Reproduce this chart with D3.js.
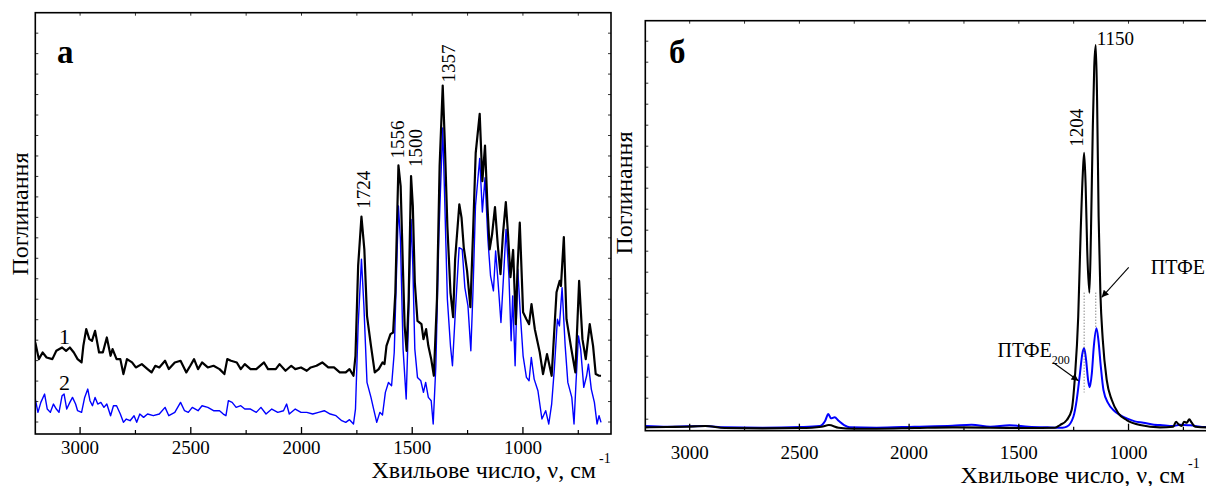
<!DOCTYPE html>
<html><head><meta charset="utf-8">
<script src="https://cdn.jsdelivr.net/npm/d3@7"></script>
<style>
body{margin:0;background:#fff}
svg{display:block}
text{font-family:"Liberation Serif","Times New Roman",serif;fill:#000}
</style>
</head><body>
<svg id="c" width="1206" height="486"></svg>
<script>
// ---------- DATA (wavenumber cm^-1, absorbance a.u.) ----------
const majorTicks = [3000, 2500, 2000, 1500, 1000];
const minorTicks = [2750, 2250, 1750, 1250, 750];

// panel a, curve 1 (black)
const leftCurve1 = [[3200,.275],[3184,.225],[3167,.245],[3149,.23],[3123,.225],[3105,.25],[3079,.26],[3061,.25],[3044,.26],[3026,.245],[3009,.225],[2991,.215],[2983,.265],[2970,.315],[2956,.285],[2944,.28],[2930,.31],[2912,.245],[2895,.245],[2877,.29],[2860,.235],[2851,.255],[2833,.225],[2816,.225],[2802,.18],[2786,.225],[2763,.215],[2746,.2],[2719,.21],[2693,.195],[2675,.185],[2658,.205],[2640,.2],[2614,.22],[2597,.195],[2570,.215],[2544,.22],[2518,.185],[2500,.205],[2483,.225],[2465,.195],[2447,.215],[2421,.2],[2395,.205],[2368,.195],[2346,.18],[2333,.225],[2316,.22],[2290,.215],[2272,.195],[2254,.21],[2228,.195],[2202,.195],[2167,.215],[2149,.195],[2114,.195],[2097,.21],[2070,.19],[2044,.205],[2026,.195],[2000,.2],[1974,.19],[1956,.2],[1930,.205],[1904,.215],[1877,.2],[1851,.2],[1825,.185],[1798,.185],[1781,.195],[1763,.175],
[1754,.235],[1742,.505],[1727,.653],[1714,.555],[1702,.355],[1684,.265],[1667,.185],[1649,.195],[1632,.215],[1623,.21],[1614,.265],[1596,.3],[1584,.305],[1574,.425],[1560,.807],[1550,.745],[1540,.505],[1532,.325],[1523,.25],[1514,.405],[1503,.775],[1495,.685],[1486,.455],[1474,.34],[1456,.33],[1447,.285],[1435,.315],[1425,.265],[1412,.225],[1400,.175],[1386,.405],[1374,.805],[1360,1.047],[1351,.885],[1339,.625],[1325,.425],[1313,.351],[1304,.525],[1285,.69],[1275,.65],[1265,.561],[1250,.49],[1235,.381],[1223,.605],[1211,.845],[1193,.962],[1181,.76],[1169,.867],[1158,.685],[1148,.555],[1137,.6],[1124,.682],[1111,.565],[1099,.48],[1088,.6],[1075,.697],[1065,.6],[1054,.471],[1042,.553],[1030,.33],[1022,.5],[1012,.635],[997,.366],[982,.345],[970,.33],[959,.39],[944,.315],[922,.246],[907,.18],[889,.24],[868,.175],[846,.426],[832,.46],[826,.445],[813,.592],[801,.345],[779,.255],[761,.185],[744,.46],[729,.285],[714,.225],[696,.33],[681,.265],[669,.18],[654,.175],[645,.175]];

// panel a, curve 2 (blue)
const leftCurve2 = [[3200,.105],[3188,.065],[3175,.095],[3158,.12],[3146,.075],[3132,.065],[3118,.09],[3105,.075],[3093,.065],[3079,.115],[3070,.12],[3058,.075],[3044,.095],[3032,.11],[3018,.09],[3009,.07],[2991,.065],[2977,.11],[2963,.135],[2953,.1],[2942,.085],[2930,.11],[2918,.09],[2904,.095],[2890,.08],[2877,.09],[2860,.055],[2847,.085],[2833,.085],[2816,.06],[2802,.035],[2789,.045],[2772,.04],[2754,.055],[2742,.035],[2728,.06],[2711,.05],[2693,.06],[2667,.055],[2640,.06],[2614,.08],[2597,.055],[2570,.065],[2544,.095],[2526,.07],[2509,.065],[2491,.08],[2465,.07],[2447,.085],[2421,.08],[2395,.07],[2368,.07],[2351,.06],[2339,.055],[2328,.1],[2311,.095],[2293,.08],[2272,.085],[2254,.075],[2228,.075],[2202,.065],[2181,.08],[2158,.06],[2132,.075],[2105,.065],[2079,.07],[2065,.09],[2053,.06],[2026,.075],[2000,.065],[1974,.065],[1947,.06],[1921,.065],[1895,.07],[1868,.06],[1842,.055],[1816,.04],[1798,.035],[1781,.043],[1763,.03],
[1754,.075],[1742,.325],[1727,.525],[1716,.385],[1702,.155],[1684,.11],[1672,.075],[1658,.035],[1644,.065],[1632,.057],[1619,.125],[1605,.155],[1591,.145],[1579,.245],[1560,.685],[1551,.585],[1539,.255],[1525,.105],[1514,.355],[1503,.645],[1495,.505],[1486,.255],[1474,.17],[1459,.16],[1447,.125],[1437,.155],[1425,.11],[1412,.1],[1403,.03],[1391,.205],[1377,.605],[1360,.92],[1351,.705],[1339,.405],[1325,.265],[1316,.205],[1304,.355],[1286,.56],[1272,.555],[1260,.44],[1246,.385],[1233,.25],[1223,.435],[1212,.685],[1193,.828],[1181,.667],[1169,.77],[1156,.585],[1144,.475],[1131,.43],[1121,.55],[1111,.465],[1097,.335],[1084,.49],[1074,.615],[1061,.475],[1051,.28],[1044,.415],[1033,.205],[1021,.495],[1009,.355],[997,.235],[982,.17],[970,.16],[960,.23],[947,.165],[930,.13],[912,.045],[895,.07],[881,.03],[868,.09],[856,.195],[842,.345],[833,.325],[821,.44],[807,.265],[795,.155],[777,.11],[767,.03],[758,.155],[747,.295],[737,.255],[723,.14],[710,.175],[702,.21],[689,.135],[675,.095],[663,.03],[654,.055],[645,.035]];

// panel б, ПТФЕ (black)
const rightCurve1 = [[3200,.01],[3100,.011],[3012,.012],[2926,.014],[2839,.008],[2666,.007],[2493,.008],[2397,.012],[2363,.017],[2319,.009],[2250,.006],[2146,.006],[1973,.008],[1800,.01],[1627,.009],[1454,.008],[1333,.009],[1310,.017],[1279,.032],[1257,.062],[1242,.162],[1227,.342],[1216,.593],[1206,.773],[1200,.834],[1193,.732],[1186,.542],[1176,.414],[1169,.593],[1161,.893],[1154,1.092],[1147,1.157],[1141,.992],[1134,.642],[1126,.413],[1115,.272],[1097,.152],[1074,.092],[1044,.052],[1006,.032],[945,.017],[854,.01],[794,.012],[781,.027],[771,.02],[755,.014],[745,.027],[732,.024],[721,.034],[710,.024],[694,.012],[644,.01],[600,.01]];

// panel б, ПТФЕ200 (blue)
const rightCurve2 = [[3200,.014],[3099,.012],[3012,.013],[2926,.014],[2839,.01],[2666,.009],[2493,.011],[2406,.014],[2380,.03],[2366,.05],[2354,.037],[2337,.04],[2319,.03],[2294,.017],[2268,.01],[2146,.009],[1973,.012],[1800,.015],[1713,.018],[1627,.012],[1540,.016],[1454,.012],[1367,.01],[1298,.009],[1279,.012],[1249,.042],[1234,.092],[1219,.172],[1208,.232],[1200,.247],[1191,.212],[1182,.152],[1175,.13],[1165,.172],[1156,.252],[1144,.307],[1135,.272],[1124,.192],[1112,.122],[1090,.082],[1067,.062],[1036,.047],[1003,.036],[969,.028],[930,.024],[882,.018],[854,.017],[794,.014],[763,.018],[717,.016],[644,.011],[600,.011]];

const leftPeaks = [1724, 1556, 1500, 1357];
const rightPeaks = [1204, 1150];
const xTitle = "Хвильове число, ν, см";
const yTitle = "Поглинання";

// ---------- DRAWING ----------
const svg = d3.select("#c");
const FONT = "Liberation Serif, Times New Roman, serif";

function nearestMax(data, wn, win) {
  let best = null;
  data.forEach(d => { if (Math.abs(d[0]-wn) <= win && (!best || d[1] > best[1])) best = d; });
  return best;
}

function drawPanel(o) {
  const x = d3.scaleLinear().domain([3200, 600]).range([o.x0, o.x1]);
  const y = d3.scaleLinear().domain([0, o.ymax]).range([o.y1, o.y0]);
  const g = svg.append("g");
  const cid = "clip" + o.id;
  g.append("clipPath").attr("id", cid).append("rect")
    .attr("x", o.x0).attr("y", o.y0).attr("width", o.x1 - o.x0).attr("height", o.y1 - o.y0);

  const line = d3.line().x(d => x(d[0])).y(d => y(d[1])).curve(o.curve);
  const cg = g.append("g").attr("clip-path", `url(#${cid})`);
  cg.append("path").datum(o.c2).attr("d", line).attr("fill", "none")
    .attr("stroke", "#0000ff").attr("stroke-width", o.w2).attr("stroke-linejoin", "round");
  cg.append("path").datum(o.c1).attr("d", line).attr("fill", "none")
    .attr("stroke", "#000").attr("stroke-width", o.w1).attr("stroke-linejoin", "round");

  // axes (inward ticks)
  const bot = g.append("g").attr("transform", `translate(0,${o.y1})`)
    .call(d3.axisBottom(x).tickValues(majorTicks).tickFormat(d3.format("d"))
      .tickSizeInner(-7).tickSizeOuter(0).tickPadding(o.tickPad));
  bot.select(".domain").remove();
  bot.selectAll("text").attr("font-family", FONT).attr("font-size", 19).attr("fill", "#000");
  bot.selectAll("line").attr("stroke-width", 1.3);
  const botm = g.append("g").attr("transform", `translate(0,${o.y1})`)
    .call(d3.axisBottom(x).tickValues(minorTicks).tickSizeInner(-4).tickSizeOuter(0).tickFormat(""));
  botm.select(".domain").remove();
  botm.selectAll("line").attr("stroke-width", 1.2);
  const top = g.append("g").attr("transform", `translate(0,${o.y0})`)
    .call(d3.axisTop(x).tickValues(majorTicks.concat(minorTicks)).tickSizeInner(-3).tickSizeOuter(0).tickFormat(""));
  top.select(".domain").remove();
  top.selectAll("line").attr("stroke-width", 0.8);

  const yt = d3.range(o.ytStart, 0.02, -o.ytStep);
  const lf = g.append("g").attr("transform", `translate(${o.x0},0)`)
    .call(d3.axisLeft(y).tickValues(yt).tickSizeInner(-3).tickSizeOuter(0).tickFormat(""));
  lf.select(".domain").remove();
  lf.selectAll("line").attr("stroke-width", 0.8);
  if (o.rightAxis) {
    const rt = g.append("g").attr("transform", `translate(${o.x1},0)`)
      .call(d3.axisRight(y).tickValues(yt).tickSizeInner(-3).tickSizeOuter(0).tickFormat(""));
    rt.select(".domain").remove();
    rt.selectAll("line").attr("stroke-width", 0.8);
  }

  g.append("rect").attr("x", o.x0).attr("y", o.y0).attr("width", o.x1 - o.x0).attr("height", o.y1 - o.y0)
    .attr("fill", "none").attr("stroke", "#000").attr("stroke-width", 1.6);

  // titles
  g.append("text").attr("transform", `translate(${o.yTitleX},${o.yTitleY}) rotate(-90)`)
    .attr("text-anchor", "middle").attr("font-size", 24).text(yTitle);
  g.append("text").attr("x", o.xTitleEnd).attr("y", o.xTitleY).attr("text-anchor", "end")
    .attr("font-size", 24).text(xTitle);
  g.append("text").attr("x", o.xTitleEnd + 3).attr("y", o.xTitleY - 15)
    .attr("font-size", 14).text("-1");
  g.append("text").attr("x", o.letterX).attr("y", o.letterY).attr("font-size", 33)
    .attr("font-weight", "bold").text(o.letter);
  return {x, y, g};
}

// Panel а
const A = drawPanel({id: "a", x0: 35.3, x1: 611, y0: 12.7, y1: 434, ymax: 1.266, tickPad: 7,
  curve: d3.curveLinear,
  c1: leftCurve1, c2: leftCurve2, w1: 2.2, w2: 1.4, ytStart: 1.206, ytStep: 0.0615, rightAxis: true,
  yTitleX: 28, yTitleY: 214, xTitleEnd: 596, xTitleY: 478, letter: "а", letterX: 57, letterY: 63});

const leftLabelShift = [[8, 8], [5, 7], [10, 9], [11.5, 3]];
leftPeaks.forEach((p, i) => {
  const pk = nearestMax(leftCurve1, p, 12);
  A.g.append("text")
    .attr("transform", `translate(${A.x(p) + leftLabelShift[i][0]},${A.y(pk[1]) - leftLabelShift[i][1]}) rotate(-90)`)
    .attr("font-size", 19).text(p);
});
A.g.append("text").attr("x", 59).attr("y", 344).attr("font-size", 22).text("1");
A.g.append("text").attr("x", 59).attr("y", 390).attr("font-size", 22).text("2");

// Panel б
const B = drawPanel({id: "b", x0: 645.3, x1: 1215.8, y0: 20.7, y1: 430.7, ymax: 1.23, tickPad: 15,
  curve: d3.curveMonotoneX,
  c1: rightCurve1, c2: rightCurve2, w1: 2.1, w2: 2.0, ytStart: 1.17, ytStep: 0.063, rightAxis: false,
  yTitleX: 632, yTitleY: 193, xTitleEnd: 1185, xTitleY: 483, letter: "б", letterX: 669, letterY: 63});

const pk1 = nearestMax(rightCurve1, rightPeaks[0], 10);
const pk2 = nearestMax(rightCurve1, rightPeaks[1], 10);
const pb2 = nearestMax(rightCurve2, rightPeaks[1], 10);
B.g.append("text").attr("transform", `translate(${B.x(pk1[0]) - 1},${B.y(pk1[1]) - 6}) rotate(-90)`)
  .attr("font-size", 19).text(rightPeaks[0]);
B.g.append("text").attr("x", B.x(pk2[0]) + 1).attr("y", B.y(pk2[1]))
  .attr("font-size", 19).text(rightPeaks[1]);

// dotted drop lines
B.g.append("line").attr("x1", B.x(pk1[0])).attr("x2", B.x(pk1[0]))
  .attr("y1", B.y(0.414)).attr("y2", B.y(0.13) + 5)
  .attr("stroke", "#555").attr("stroke-width", 1).attr("stroke-dasharray", "1,2");
B.g.append("line").attr("x1", B.x(pk2[0])).attr("x2", B.x(pk2[0]))
  .attr("y1", B.y(0.414)).attr("y2", B.y(pb2[1]))
  .attr("stroke", "#555").attr("stroke-width", 1).attr("stroke-dasharray", "1,2");

// arrows
const defs = svg.append("defs");
defs.append("marker").attr("id", "ah").attr("viewBox", "0 0 10 10").attr("refX", 10).attr("refY", 5)
  .attr("markerWidth", 9).attr("markerHeight", 7).attr("orient", "auto").attr("markerUnits", "userSpaceOnUse")
  .append("path").attr("d", "M0,0 L10,5 L0,10 z").attr("fill", "#000");
const t1x = B.x(1120), t1y = B.y(0.40);
B.g.append("line").attr("x1", t1x + 27).attr("y1", t1y - 30).attr("x2", t1x).attr("y2", t1y)
  .attr("stroke", "#000").attr("stroke-width", 1.1).attr("marker-end", "url(#ah)");
B.g.append("text").attr("x", t1x + 49).attr("y", t1y - 23).attr("font-size", 20).text("ПТФЕ");
const t2x = B.x(1226), t2y = B.y(0.15);
B.g.append("line").attr("x1", t2x - 25).attr("y1", t2y - 18).attr("x2", t2x).attr("y2", t2y)
  .attr("stroke", "#000").attr("stroke-width", 1.1).attr("marker-end", "url(#ah)");
const lbl = B.g.append("text").attr("x", t2x - 81).attr("y", t2y - 24).attr("font-size", 20);
lbl.append("tspan").text("ПТФЕ");
lbl.append("tspan").attr("font-size", 12).attr("dy", 7).text("200");
</script>
</body></html>
